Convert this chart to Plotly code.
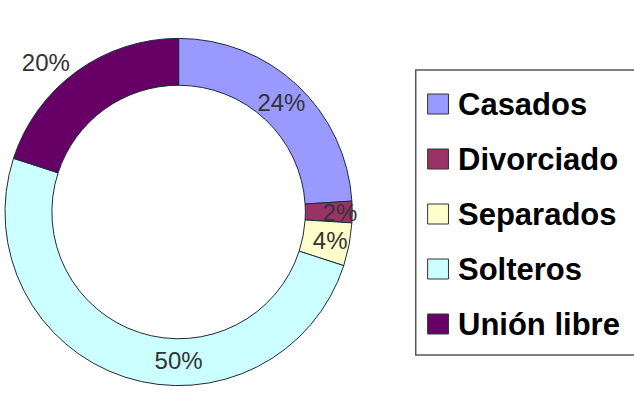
import plotly.graph_objects as go

# Estado civil: porcentaje por categoría
categorias = ["Casados", "Divorciado", "Separados", "Solteros", "Unión libre"]
porcentajes = [24, 2, 4, 50, 20]
colores = ["#9999FF", "#993366", "#FFFFCC", "#CCFFFF", "#660066"]
posicion_texto = ["inside", "inside", "inside", "inside", "outside"]

W, H = 634, 410


def fx(x):
    return x / W


def fy(y):
    return 1 - y / H


# Donut geometry (pixels)
cx, cy, r = 175, 212, 175

fig = go.Figure()
fig.add_trace(go.Pie(
    labels=categorias,
    values=porcentajes,
    hole=0.73,
    sort=False,
    direction="clockwise",
    rotation=0,
    marker=dict(colors=colores, line=dict(color="#1f2a3a", width=1)),
    texttemplate="%{value}%",
    textposition=posicion_texto,
    insidetextorientation="horizontal",
    textfont=dict(family="Arial", size=24, color="#333333"),
    showlegend=False,
    hoverinfo="label+percent",
    domain=dict(x=[fx(cx - r), fx(cx + r)], y=[fy(cy + r), fy(cy - r)]),
))

# Legend frame, swatches and labels
shapes = [dict(type="rect", xref="paper", yref="paper",
               x0=fx(414), x1=fx(645), y0=fy(355), y1=fy(70),
               line=dict(color="#555555", width=1.5), fillcolor="white", layer="below")]
annotations = []
fila_y = [104, 159, 214, 269, 324]
for nombre, color, yc in zip(categorias, colores, fila_y):
    shapes.append(dict(type="rect", xref="paper", yref="paper",
                       x0=fx(426), x1=fx(447), y0=fy(yc + 10), y1=fy(yc - 10),
                       fillcolor=color, line=dict(color="#333333", width=1)))
    annotations.append(dict(text=nombre, xref="paper", yref="paper",
                            x=fx(455), y=fy(yc), xanchor="left", yanchor="middle",
                            showarrow=False,
                            font=dict(family="Arial", size=31, color="#000000", weight="bold")))

fig.update_layout(
    width=W, height=H,
    margin=dict(l=0, r=0, t=0, b=0),
    paper_bgcolor="white",
    plot_bgcolor="white",
    shapes=shapes,
    annotations=annotations,
    uniformtext=dict(minsize=22, mode="show"),
)

fig.write_html("out.html")
